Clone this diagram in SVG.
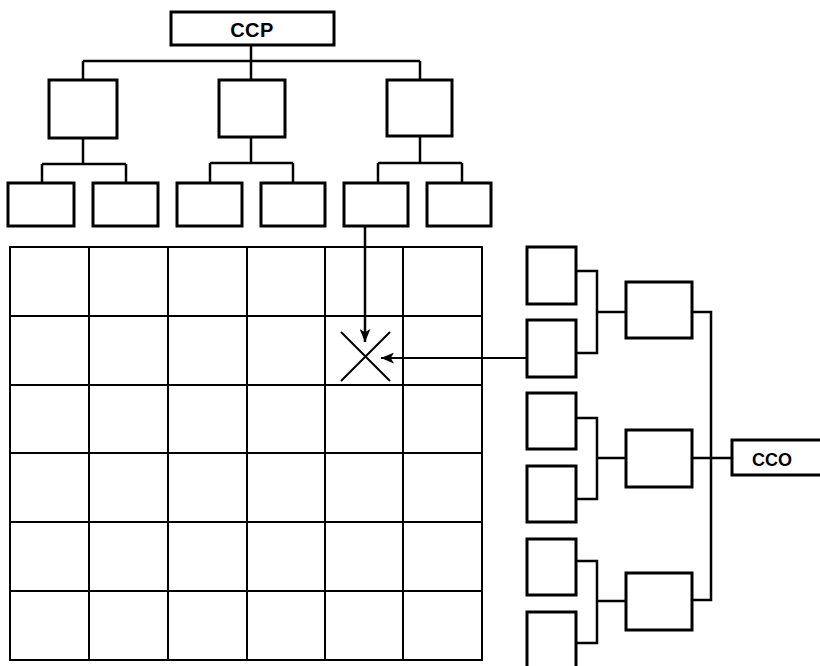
<svg xmlns="http://www.w3.org/2000/svg" width="820" height="666" viewBox="0 0 820 666">
<style>
.box{fill:#fff;stroke:#000;stroke-width:3}
.grid{fill:none;stroke:#000;stroke-width:2}
.conn{fill:none;stroke:#000;stroke-width:2.5}
.thin{fill:none;stroke:#000;stroke-width:2}
.lbl{font-family:"Liberation Sans",Arial,sans-serif;font-weight:bold;fill:#000;text-anchor:middle}
</style>
<defs>
<marker id="ah" viewBox="0 0 12 10" refX="12" refY="5" markerWidth="13" markerHeight="11" orient="auto" markerUnits="userSpaceOnUse">
<path d="M0,0 L12,5 L0,10 L3,5 Z" fill="#000"/>
</marker>
</defs>
<rect width="820" height="666" fill="#fff"/>
<g id="connectors">
<path class="conn" d="M251,45 V61 M83,61 H420 M83,61 V80 M251,61 V80 M420,61 V80"/>
<path class="conn" d="M83,138 V164 M42,164 H126 M42,164 V183 M126,164 V183"/>
<path class="conn" d="M251,137 V163 M210,163 H293 M210,163 V183 M293,163 V183"/>
<path class="conn" d="M420,136 V163 M378,163 H462 M378,163 V183 M462,163 V183"/>
<path class="conn" d="M576,271 H597 V353 H576 M597,312 H626"/>
<path class="conn" d="M576,418 H597 V499 H576 M597,458 H626"/>
<path class="conn" d="M576,561 H597 V643 H576 M597,601 H626"/>
<path class="conn" d="M692,312 H711 V600 H692 M692,458 H732"/>
<line class="conn" x1="365" y1="226" x2="365" y2="342" marker-end="url(#ah)"/>
<line class="thin" x1="526" y1="358" x2="381" y2="358" marker-end="url(#ah)"/>
</g>
<g id="matrix">
<rect class="grid" x="10" y="247" width="472" height="413"/>
<path class="grid" d="M89,247 V660 M168,247 V660 M247,247 V660 M325,247 V660 M403,247 V660"/>
<path class="grid" d="M10,316 H482 M10,385 H482 M10,453 H482 M10,522 H482 M10,591 H482"/>
<path class="thin" d="M341,332 L390,381 M390,332 L341,381"/>
</g>
<g id="ccp">
<rect class="box" x="171" y="12" width="163" height="33"/>
<text class="lbl" x="252" y="37" font-size="20" letter-spacing="0.5">CCP</text>
</g>
<g id="p1"><rect class="box" x="49" y="80" width="68" height="58"/></g>
<g id="p2"><rect class="box" x="219" y="80" width="66" height="57"/></g>
<g id="p3"><rect class="box" x="387" y="80" width="65" height="56"/></g>
<g id="p11"><rect class="box" x="8" y="183" width="66" height="43"/></g>
<g id="p12"><rect class="box" x="93" y="183" width="65" height="43"/></g>
<g id="p21"><rect class="box" x="177" y="183" width="65" height="43"/></g>
<g id="p22"><rect class="box" x="261" y="183" width="64" height="43"/></g>
<g id="p31"><rect class="box" x="344" y="183" width="64" height="43"/></g>
<g id="p32"><rect class="box" x="427" y="183" width="64" height="43"/></g>
<g id="o11"><rect class="box" x="527" y="247" width="49" height="57"/></g>
<g id="o12"><rect class="box" x="527" y="320" width="49" height="57"/></g>
<g id="o21"><rect class="box" x="527" y="393" width="49" height="56"/></g>
<g id="o22"><rect class="box" x="527" y="466" width="49" height="56"/></g>
<g id="o31"><rect class="box" x="527" y="539" width="49" height="56"/></g>
<g id="o32"><rect class="box" x="527" y="612" width="49" height="60"/></g>
<g id="o1"><rect class="box" x="626" y="282" width="66" height="56"/></g>
<g id="o2"><rect class="box" x="626" y="430" width="66" height="57"/></g>
<g id="o3"><rect class="box" x="626" y="573" width="66" height="57"/></g>
<g id="cco">
<rect class="box" x="732" y="440" width="92" height="35"/>
<text class="lbl" x="772" y="466" font-size="18">CCO</text>
</g>
</svg>
